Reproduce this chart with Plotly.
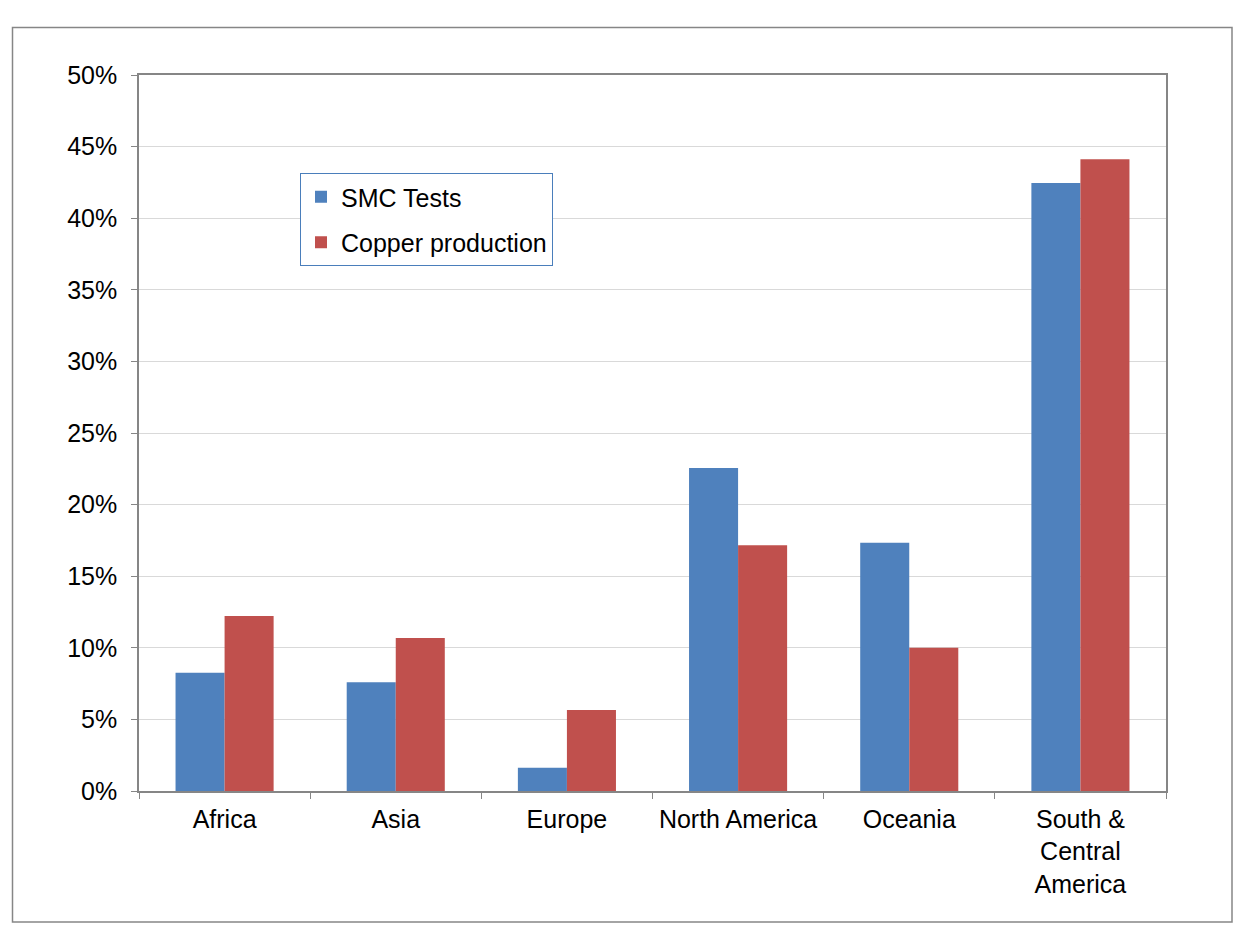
import plotly.graph_objects as go

categories = ["Africa", "Asia", "Europe", "North America", "Oceania", "South &<br>Central<br>America"]
smc_tests = [8.26, 7.59, 1.63, 22.56, 17.33, 42.45]
copper_production = [12.22, 10.68, 5.66, 17.16, 10.0, 44.11]
y_ticks = [0, 5, 10, 15, 20, 25, 30, 35, 40, 45, 50]
y_tick_labels = [f"{v}%" for v in y_ticks]

L, R, T, B = 139, 79, 75, 159
W, H = 1245, 950
pw, ph = W - L - R, H - T - B

def px_x(p):
    return (p - L) / pw

def px_y(p):
    return (H - B - p) / ph

FS = 25

fig = go.Figure()
fig.add_trace(go.Bar(x=categories, y=smc_tests, name="SMC Tests",
                     marker=dict(color="#4f81bd", line=dict(width=0)),
                     legendgroup="a"))
fig.add_trace(go.Bar(x=categories, y=copper_production, name="Copper production",
                     marker=dict(color="#c0504d", line=dict(width=0)),
                     legendgroup="b"))

fig.update_layout(
    width=W, height=H,
    margin=dict(l=L, r=R, t=T, b=B),
    paper_bgcolor="white", plot_bgcolor="white",
    barmode="group", bargap=0.427, bargroupgap=0,
    font=dict(family="Liberation Sans, Arial, sans-serif", size=FS, color="black"),
    showlegend=True,
    legend=dict(x=px_x(300), y=px_y(173), xanchor="left", yanchor="top",
                bgcolor="white", bordercolor="#4a7ebb", borderwidth=1,
                font=dict(size=FS), traceorder="grouped", tracegroupgap=10,
                itemwidth=30),
    xaxis=dict(showline=True, linecolor="#868686", linewidth=1.5, mirror=True,
               ticks="outside", ticklen=6, tickcolor="#868686", tickson="boundaries",
               showgrid=False, tickfont=dict(size=FS), ticklabelstandoff=5),
    yaxis=dict(range=[0, 50], tickvals=y_ticks, ticktext=y_tick_labels,
               showline=True, linecolor="#868686", linewidth=1.5, mirror=True,
               ticks="outside", ticklen=6, tickcolor="#868686",
               showgrid=True, gridcolor="#d9d9d9", gridwidth=1.2,
               zeroline=False, tickfont=dict(size=FS), ticklabelstandoff=9),
    shapes=[dict(type="rect", xref="paper", yref="paper",
                 x0=px_x(12.5), x1=px_x(1232), y0=px_y(922), y1=px_y(27.5),
                 line=dict(color="#868686", width=1.5), fillcolor="rgba(0,0,0,0)",
                 layer="below")],
)

fig.write_html("out.html")
